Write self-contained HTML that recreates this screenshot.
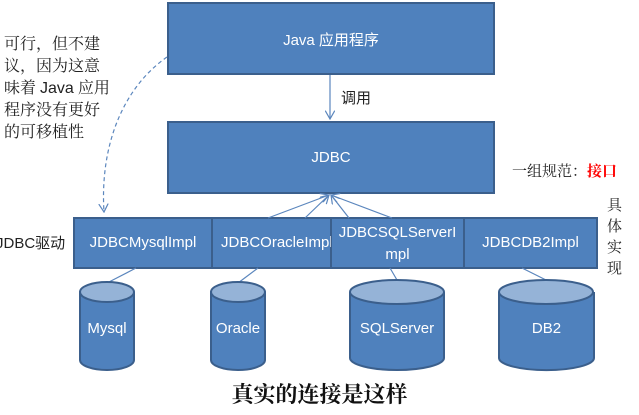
<!DOCTYPE html>
<html><head><meta charset="utf-8"><style>
body{margin:0;width:639px;height:415px;background:#fff;overflow:hidden;position:relative;font-family:"Liberation Sans","Noto Sans CJK SC",sans-serif}
.t{position:absolute;white-space:nowrap}
</style></head><body>
<svg width="639" height="415" style="position:absolute;left:0;top:0">
<defs>
<marker id="a" markerWidth="8" markerHeight="8" refX="7" refY="4" orient="auto"><path d="M0,0 L7,4 L0,8" fill="none" stroke="#5b86bd" stroke-width="1"/></marker>
</defs>
<g stroke="#3b5f8c" stroke-width="2" fill="#4f81bd">
<rect x="168" y="3" width="326" height="71"/>
<rect x="168" y="122" width="326" height="71"/>
<rect x="74" y="218" width="138" height="50"/>
<rect x="212" y="218" width="119" height="50"/>
<rect x="331" y="218" width="133" height="50"/>
<rect x="464" y="218" width="133" height="50"/>
</g>
<g stroke="#5b86bd" stroke-width="1.2" fill="none">
<line x1="330" y1="75" x2="330" y2="119" marker-end="url(#a)"/>
<line x1="268" y1="218" x2="329" y2="195" marker-end="url(#a)"/>
<line x1="305" y1="218" x2="329" y2="195" marker-end="url(#a)"/>
<line x1="349" y1="218" x2="331" y2="195" marker-end="url(#a)"/>
<line x1="392" y1="218" x2="331" y2="195" marker-end="url(#a)"/>
<line x1="136" y1="268" x2="107" y2="283"/>
<line x1="258" y1="268" x2="238" y2="283"/>
<line x1="390" y1="268" x2="397" y2="280"/>
<line x1="522" y1="268" x2="546" y2="280"/>
<path d="M167,57 C120,90 100,150 104,212" stroke-dasharray="4,3" marker-end="url(#a)"/>
</g>
<g stroke="#3b5f8c" stroke-width="2">
<path d="M80,292 L80,360 A27,10 0 0 0 134,360 L134,292" fill="#4f81bd"/>
<ellipse cx="107" cy="292" rx="27" ry="10" fill="#95b3d7"/>
<path d="M211,292 L211,360 A27,10 0 0 0 265,360 L265,292" fill="#4f81bd"/>
<ellipse cx="238" cy="292" rx="27" ry="10" fill="#95b3d7"/>
<path d="M350,292 L350,358 A47,12 0 0 0 444,358 L444,292" fill="#4f81bd"/>
<ellipse cx="397" cy="292" rx="47" ry="12" fill="#95b3d7"/>
<path d="M499,292 L499,358 A47,12 0 0 0 594,358 L594,292" fill="#4f81bd"/>
<ellipse cx="546" cy="292" rx="47" ry="12" fill="#95b3d7"/>
</g>
</svg>
<div class="t" style="left:168px;top:29px;width:326px;text-align:center;color:#fff;font-size:15px">Java 应用程序</div>
<div class="t" style="left:168px;top:149px;width:326px;text-align:center;color:#fff;font-size:15px">JDBC</div>
<div class="t" style="left:74px;top:234px;width:138px;text-align:center;color:#fff;font-size:15px">JDBCMysqlImpl</div>
<div class="t" style="left:212px;top:234px;width:119px;overflow:hidden;text-align:left;color:#fff;font-size:15px;padding-left:9px;box-sizing:border-box">JDBCOracleImpl</div>
<div class="t" style="left:331px;top:222px;width:133px;text-align:center;color:#fff;font-size:15px;line-height:22px;white-space:normal">JDBCSQLServerI<br>mpl</div>
<div class="t" style="left:464px;top:234px;width:133px;text-align:center;color:#fff;font-size:15px">JDBCDB2Impl</div>
<div class="t" style="left:80px;top:320px;width:54px;text-align:center;color:#fff;font-size:15px">Mysql</div>
<div class="t" style="left:211px;top:320px;width:54px;text-align:center;color:#fff;font-size:15px">Oracle</div>
<div class="t" style="left:350px;top:320px;width:94px;text-align:center;color:#fff;font-size:15px">SQLServer</div>
<div class="t" style="left:499px;top:320px;width:95px;text-align:center;color:#fff;font-size:15px">DB2</div>
<div class="t" style="left:341px;top:87px;font-size:15px;color:#222">调用</div>
<div class="t" style="left:4px;top:34px;font-size:16px;line-height:22px;color:#222;white-space:normal;width:115px;font-family:'Liberation Serif','Noto Serif CJK SC',serif">可行，但不建<br>议，因为这意<br>味着 <span style="font-family:'Liberation Sans',sans-serif">Java</span> 应用<br>程序没有更好<br>的可移植性</div>
<div class="t" style="left:0px;top:232px;font-size:15px;color:#222;margin-left:-4px">JDBC驱动</div>
<div class="t" style="left:512px;top:160px;font-size:15px;color:#222;font-family:'Liberation Serif','Noto Serif CJK SC',serif">一组规范：<b style="color:#f00">接口</b></div>
<div class="t" style="left:607px;top:196px;font-size:15px;line-height:21px;color:#222;font-family:'Liberation Serif','Noto Serif CJK SC',serif;white-space:normal;width:18px">具<br>体<br>实<br>现</div>
<div class="t" style="left:0;top:378px;width:639px;text-align:center;font-size:22px;font-weight:bold;color:#111;font-family:'Liberation Serif','Noto Serif CJK SC',serif">真实的连接是这样</div>
</body></html>
